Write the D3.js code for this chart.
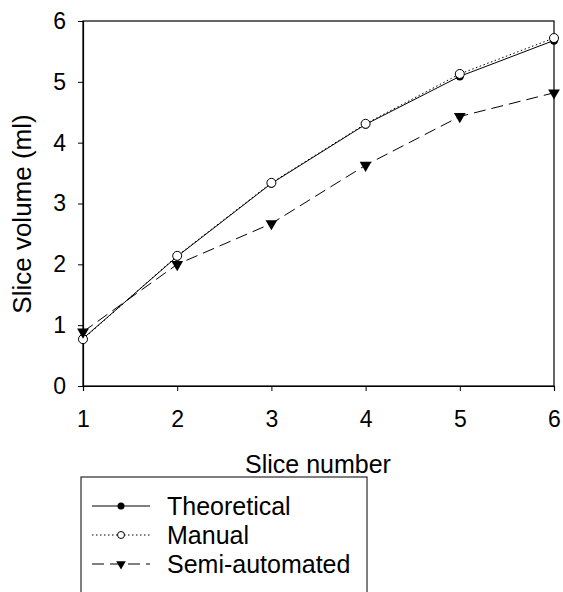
<!DOCTYPE html>
<html>
<head>
<meta charset="utf-8">
<script src="https://cdn.jsdelivr.net/npm/d3@7"></script>
<style>
	body { margin: 0; background: #fff; }
	svg { display: block; font-family: "Liberation Sans", Arial, sans-serif; }
</style>
</head>
<body>
<div id="chart"></div>
<script>
// DATA
const slices = [1, 2, 3, 4, 5, 6];
const theoretical = [0.78, 2.13, 3.33, 4.30, 5.09, 5.68];
const manual = [0.77, 2.14, 3.34, 4.31, 5.13, 5.72];
const semiAutomated = [0.89, 2.00, 2.67, 3.63, 4.43, 4.82];
const yTicks = [0, 1, 2, 3, 4, 5, 6];

const w = 563, h = 592;
const plotLeft = 83, plotRight = 554, plotTop = 21, plotBottom = 386;

const svg = d3.select('#chart').append('svg')
	.attr('width', w)
	.attr('height', h);

// scales
const x = d3.scaleLinear().domain([1, 6]).range([plotLeft, plotRight]);
const y = d3.scaleLinear().domain([0, 6]).range([plotBottom, plotTop]);

// frame
svg.append('rect')
	.attr('x', plotLeft).attr('y', plotTop)
	.attr('width', plotRight - plotLeft).attr('height', plotBottom - plotTop)
	.attr('fill', 'none').attr('stroke', '#000').attr('stroke-width', 1.2);

// axes
const xAxis = d3.axisBottom(x).tickValues(slices).tickSize(5).tickPadding(20).tickFormat(d3.format('d'));
const yAxis = d3.axisLeft(y).tickValues(yTicks).tickSize(5).tickPadding(12).tickFormat(d3.format('d'));
const gx = svg.append('g').attr('transform', `translate(0,${plotBottom})`).call(xAxis);
const gy = svg.append('g').attr('transform', `translate(${plotLeft},0)`).call(yAxis);
[gx, gy].forEach(g => {
	g.select('.domain').attr('stroke', '#000').attr('stroke-width', 1.2);
	g.selectAll('.tick line').attr('stroke', '#000');
	g.selectAll('.tick text').attr('fill', '#000').style('font-size', '23px');
});

// titles
svg.append('text')
	.attr('x', 318).attr('y', 473)
	.attr('text-anchor', 'middle').style('font-size', '25px')
	.text('Slice number');
svg.append('text')
	.attr('transform', `translate(31,214) rotate(-90)`)
	.attr('text-anchor', 'middle').style('font-size', '26px')
	.text('Slice volume (ml)');

// series
const series = [
	{ name: 'Theoretical', values: theoretical, dash: null, marker: 'dot' },
	{ name: 'Manual', values: manual, dash: '1.5,2.5', marker: 'open' },
	{ name: 'Semi-automated', values: semiAutomated, dash: '12,6', marker: 'tri' }
];

const line = d3.line().x((d, i) => x(slices[i])).y(d => y(d));
const tri = d3.symbol().type(d3.symbolTriangle);

const drawMarker = (g, kind, cx, cy, small) => {
	if (kind === 'dot') {
		g.append('circle').attr('cx', cx).attr('cy', cy).attr('r', small ? 3.5 : 4.2).attr('fill', '#000');
	} else if (kind === 'open') {
		g.append('circle').attr('cx', cx).attr('cy', cy).attr('r', small ? 3.5 : 4.5)
			.attr('fill', '#fff').attr('stroke', '#000').attr('stroke-width', 1);
	} else {
		g.append('path').attr('d', tri.size(small ? 40 : 60)())
			.attr('transform', `translate(${cx},${cy}) rotate(180)`).attr('fill', '#000');
	}
};

series.forEach(s => {
	svg.append('path')
		.attr('d', line(s.values))
		.attr('fill', 'none').attr('stroke', '#000').attr('stroke-width', 1)
		.attr('stroke-dasharray', s.dash);
});
series.forEach(s => {
	const g = svg.append('g');
	s.values.forEach((v, i) => drawMarker(g, s.marker, x(slices[i]), y(v), false));
});

// legend
const lg = svg.append('g');
lg.append('rect')
	.attr('x', 81).attr('y', 477).attr('width', 286).attr('height', 130)
	.attr('fill', 'none').attr('stroke', '#000').attr('stroke-width', 1);
series.forEach((s, i) => {
	const ly = 506 + i * 29;
	lg.append('line').attr('x1', 92).attr('x2', 150).attr('y1', ly).attr('y2', ly)
		.attr('stroke', '#000').attr('stroke-width', 1).attr('stroke-dasharray', s.dash);
	drawMarker(lg, s.marker, 121, ly, true);
	lg.append('text').attr('x', 167).attr('y', ly + 9).style('font-size', '25px').text(s.name);
});
</script>
</body>
</html>
